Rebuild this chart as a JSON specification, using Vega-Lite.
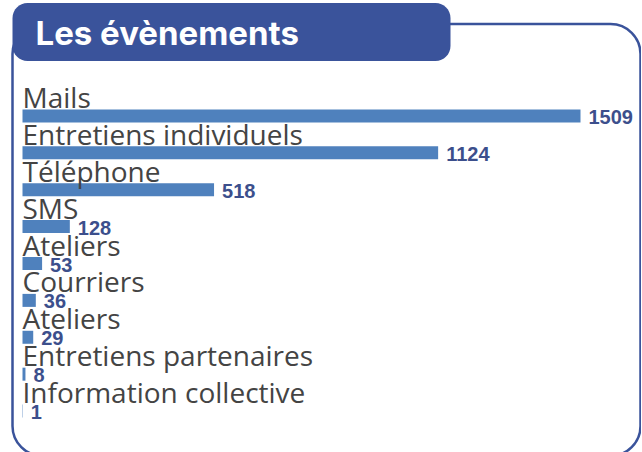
{
  "$schema": "https://vega.github.io/schema/vega-lite/v6.json",
  "width": 628,
  "height": 432,
  "padding": {"left": 12.5, "top": 3, "right": 0, "bottom": 0},
  "background": "white",
  "view": {"stroke": "#3a539b", "strokeWidth": 2.5, "cornerRadius": 30},
  "title": {
    "text": "Les évènements",
    "color": "white",
    "font": "Inter",
    "fontSize": 33,
    "fontWeight": "bold",
    "anchor": "start",
    "frame": "group",
    "dx": 23,
    "offset": -49
  },
  "data": {
    "values": [
      {"id": 1, "evenement": "Mails", "nombre": 1509},
      {"id": 2, "evenement": "Entretiens individuels", "nombre": 1124},
      {"id": 3, "evenement": "Téléphone", "nombre": 518},
      {"id": 4, "evenement": "SMS", "nombre": 128},
      {"id": 5, "evenement": "Ateliers", "nombre": 53},
      {"id": 6, "evenement": "Courriers", "nombre": 36},
      {"id": 7, "evenement": "Ateliers", "nombre": 29},
      {"id": 8, "evenement": "Entretiens partenaires", "nombre": 8},
      {"id": 9, "evenement": "Information collective", "nombre": 1}
    ]
  },
  "encoding": {
    "y": {
      "field": "id",
      "type": "ordinal",
      "sort": "ascending",
      "axis": null,
      "scale": {"range": [73.5, 405.5], "paddingInner": 0, "paddingOuter": 0}
    }
  },
  "layer": [
    {
      "mark": {"type": "bar", "size": 13},
      "encoding": {
        "x": {
          "field": "nombre",
          "type": "quantitative",
          "axis": null,
          "scale": {"domain": [0, 1509], "range": [10, 568], "nice": false}
        },
        "color": {
          "field": "nombre",
          "type": "quantitative",
          "scale": {"range": ["#4f81bd", "#4f81bd"]},
          "legend": {
            "orient": "none",
            "legendX": 0,
            "legendY": -21,
            "direction": "horizontal",
            "title": null,
            "fillColor": "#3a539b",
            "strokeColor": null,
            "cornerRadius": 15,
            "padding": 0,
            "gradientLength": 438,
            "gradientThickness": 57,
            "gradientOpacity": 0,
            "gradientStrokeWidth": 0,
            "labelExpr": "''",
            "labelFontSize": 1,
            "labelOffset": 0,
            "labelOpacity": 0,
            "tickCount": 1
          }
        }
      }
    },
    {
      "mark": {
        "type": "text",
        "align": "left",
        "baseline": "alphabetic",
        "dy": -8,
        "font": "Open Sans",
        "fontSize": 28,
        "color": "#444444"
      },
      "encoding": {
        "x": {"datum": 0, "type": "quantitative"},
        "text": {"field": "evenement"}
      }
    },
    {
      "mark": {
        "type": "text",
        "align": "left",
        "baseline": "middle",
        "dx": 8,
        "dy": 2,
        "font": "Liberation Sans",
        "fontWeight": "bold",
        "fontSize": 20,
        "color": "#3c4f8c"
      },
      "encoding": {
        "x": {"field": "nombre", "type": "quantitative"},
        "text": {"field": "nombre", "type": "quantitative"}
      }
    }
  ]
}
